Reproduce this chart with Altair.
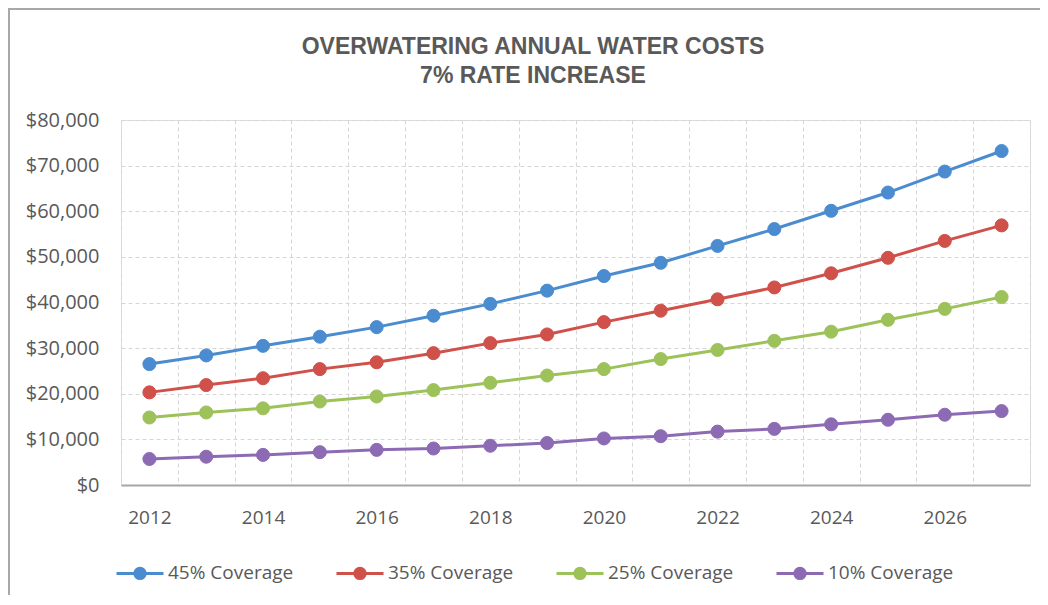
import altair as alt
import pandas as pd

years = list(range(2012, 2028))
series = ["45% Coverage", "35% Coverage", "25% Coverage", "10% Coverage"]
cov45 = [26500, 28400, 30500, 32500, 34600, 37100, 39700, 42600, 45800, 48700, 52400, 56100, 60100, 64100, 68700, 73200]
cov35 = [20300, 21900, 23400, 25400, 26900, 28900, 31100, 33000, 35700, 38200, 40700, 43300, 46400, 49800, 53500, 56900]
cov25 = [14800, 15900, 16800, 18300, 19400, 20800, 22400, 24000, 25400, 27600, 29600, 31600, 33600, 36200, 38600, 41200]
cov10 = [5700, 6200, 6600, 7200, 7700, 8000, 8600, 9200, 10200, 10700, 11700, 12300, 13300, 14300, 15400, 16200]
colors = ["#4A8CCF", "#D0504A", "#9DC25A", "#8D6AB4"]
y_ticks = [0, 10000, 20000, 30000, 40000, 50000, 60000, 70000, 80000]
title_lines = ["OVERWATERING ANNUAL WATER COSTS", "7% RATE INCREASE"]

rows = []
for name, vals in zip(series, [cov45, cov35, cov25, cov10]):
    for yr, v in zip(years, vals):
        rows.append({"year": yr, "value": v, "series": name})
df = pd.DataFrame(rows)

GRID = "#d6d6d6"
TXT = "#595959"
FONT = "Open Sans"

x_enc = alt.X(
    "year:O",
    scale=alt.Scale(type="band", paddingInner=0, paddingOuter=0),
    axis=alt.Axis(
        title=None, labelAngle=0,
        labelExpr="datum.value % 2 == 0 ? datum.label : ''",
        tickBand="extent", ticks=False, grid=True,
        gridDash=[4, 3], gridColor=GRID, gridWidth=1,
        domainColor="#a6a6a6", domainWidth=2,
        labelPadding=23, labelFontSize=19, labelFont=FONT, labelColor=TXT,
    ),
)
y_enc = alt.Y(
    "value:Q",
    scale=alt.Scale(domain=[0, 80000]),
    axis=alt.Axis(
        title=None, format="$,.0f", values=y_ticks,
        domain=False, ticks=False, grid=True,
        gridDash=[4, 3], gridColor=GRID, gridWidth=1,
        labelPadding=22, labelFontSize=20, labelFont=FONT, labelColor=TXT,
    ),
)
cscale = alt.Scale(domain=series, range=colors)
sym = "M-1,0L1,0M0.22,0A0.22,0.22,0,1,1,-0.22,0A0.22,0.22,0,1,1,0.22,0Z"
leg = alt.Legend(
    title=None, orient="none", legendX=-6, legendY=428,
    direction="horizontal", columns=4, columnPadding=36,
    symbolType=sym, symbolSize=2209, symbolStrokeWidth=3,
    labelFontSize=19, labelFont=FONT, labelColor=TXT, labelOffset=3,
)

base = alt.Chart(df)
lines = base.mark_line(strokeWidth=3).encode(
    x=x_enc, y=y_enc,
    stroke=alt.Stroke("series:N", scale=cscale, legend=leg),
)
points = base.mark_point(filled=True, size=170, opacity=1, strokeWidth=1).encode(
    x=x_enc, y=y_enc,
    fill=alt.Fill("series:N", scale=cscale, legend=leg),
    stroke=alt.Stroke("series:N", scale=cscale, legend=leg),
)

frame_df = pd.DataFrame({"a": [0]})
top_rule = alt.Chart(frame_df).mark_rule(color="#a8a8a8", strokeWidth=2).encode(
    x=alt.value(-113), x2=alt.value(930), y=alt.value(-111)
)
left_rule = alt.Chart(frame_df).mark_rule(color="#a8a8a8", strokeWidth=2).encode(
    x=alt.value(-112), y=alt.value(-111), y2=alt.value(490)
)
title_text = alt.Chart(frame_df).mark_text(
    text=title_lines, font="Liberation Sans", fontSize=23, fontWeight="bold",
    color=TXT, align="center", baseline="middle", lineHeight=29,
).encode(x=alt.value(412), y=alt.value(-73))

chart = alt.layer(top_rule, left_rule, title_text, lines, points).properties(
    width=909, height=365,
    padding={"left": 113, "top": 112, "right": 10, "bottom": 110},
    autosize=alt.AutoSizeParams(type="none"),
).configure_view(stroke=None).configure(background="white")

chart.save("out.html", embed_options={"renderer": "svg", "actions": False})
